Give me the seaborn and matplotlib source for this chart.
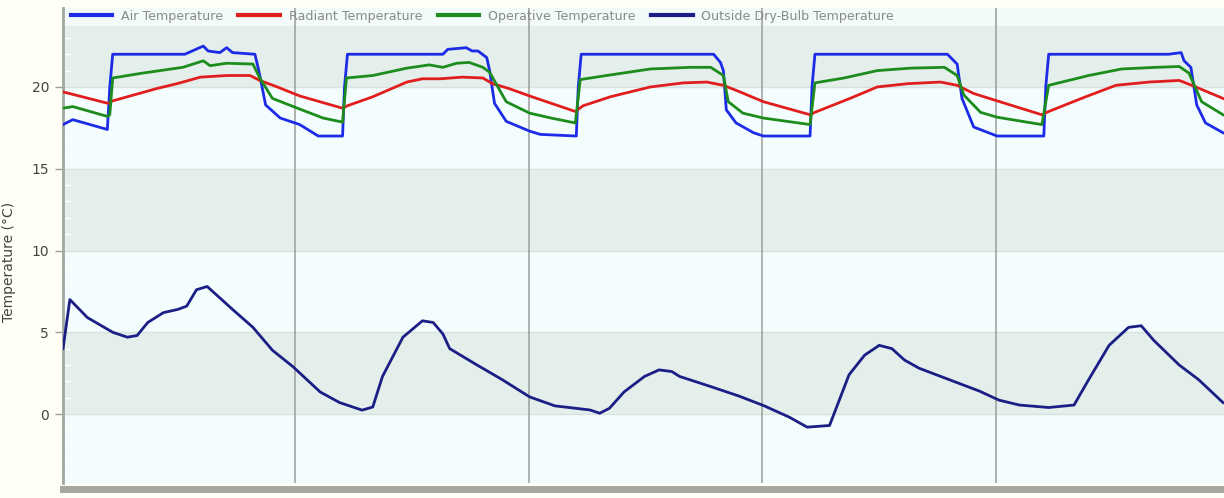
import numpy as np
import pandas as pd
import seaborn as sns
import matplotlib.pyplot as plt
from matplotlib.ticker import MultipleLocator

# hours from start of the 5 day run
air_hours = [0.2, 1.2, 4.75, 5.0, 5.3, 12.7, 14.6, 15.1, 16.3, 17.0, 17.6, 19.9, 20.3, 21.0, 22.5,
             24.5, 26.4, 28.9, 29.1, 29.4, 37.5, 39.2, 39.7, 41.6, 42.2, 42.8, 43.7, 44.0, 44.5, 45.7,
             48.1, 49.2, 52.9, 53.1, 53.4, 67.0, 67.7, 68.0, 68.3, 69.3, 71.1, 72.1, 76.9, 77.1, 77.4,
             91.0, 92.0, 92.5, 93.7, 96.1, 100.9, 101.1, 101.4, 113.7, 115.0, 115.3, 116.0, 116.6, 117.5, 119.3]
air_temp = [17.7, 18.0, 17.4, 20.0, 22.0, 22.0, 22.5, 22.2, 22.1, 22.4, 22.1, 22.0, 21.0, 18.9, 18.1,
            17.7, 17.0, 17.0, 20.0, 22.0, 22.0, 22.0, 22.3, 22.4, 22.2, 22.2, 21.8, 21.0, 19.0, 17.9,
            17.3, 17.1, 17.0, 20.0, 22.0, 22.0, 21.5, 21.0, 18.6, 17.8, 17.2, 17.0, 17.0, 20.0, 22.0,
            22.0, 21.4, 19.3, 17.55, 17.0, 17.0, 20.0, 22.0, 22.0, 22.1, 21.6, 21.2, 18.9, 17.8, 17.2]

rad_hours = [0.2, 4.8, 5.3, 9.8, 11.9, 14.3, 17.0, 19.4, 20.4, 22.2, 24.5, 28.9, 29.4, 32.0, 35.5,
             37.1, 38.9, 41.2, 43.3, 44.3, 46.0, 48.1, 52.8, 53.6, 56.4, 60.5, 63.9, 66.3, 68.0, 69.7,
             72.1, 76.9, 77.4, 81.0, 83.8, 86.9, 90.3, 92.0, 93.7, 96.1, 100.7, 101.4, 105.2, 108.3,
             111.7, 114.8, 116.1, 119.3]
rad_temp = [19.7, 19.0, 19.15, 19.9, 20.2, 20.6, 20.7, 20.7, 20.4, 20.0, 19.45, 18.7, 18.85, 19.4, 20.3,
            20.5, 20.5, 20.6, 20.55, 20.2, 19.9, 19.45, 18.5, 18.85, 19.4, 20.0, 20.25, 20.3, 20.1, 19.7,
            19.1, 18.3, 18.45, 19.3, 20.0, 20.2, 20.3, 20.1, 19.6, 19.15, 18.3, 18.5, 19.4, 20.1,
            20.3, 20.4, 20.1, 19.3]

op_hours = [0.2, 1.2, 4.75, 5.0, 5.3, 8.4, 12.5, 14.6, 15.3, 17.0, 19.7, 20.4, 21.7, 24.5, 26.9,
            28.9, 29.3, 32.0, 35.5, 37.8, 39.2, 40.6, 41.9, 43.3, 44.0, 45.7, 48.1, 50.3, 52.8, 53.3,
            56.0, 60.5, 64.6, 66.7, 68.0, 68.5, 70.0, 72.1, 76.9, 77.4, 80.4, 83.8, 87.2, 90.7, 92.0,
            92.7, 94.4, 96.1, 100.7, 101.4, 105.5, 108.9, 112.4, 114.8, 115.8, 117.1, 119.3]
op_temp = [18.7, 18.8, 18.2, 18.3, 20.55, 20.85, 21.2, 21.6, 21.3, 21.45, 21.4, 20.55, 19.3, 18.65, 18.1,
           17.85, 20.55, 20.7, 21.15, 21.35, 21.2, 21.45, 21.5, 21.2, 20.9, 19.1, 18.4, 18.1, 17.8, 20.45,
           20.7, 21.1, 21.2, 21.2, 20.7, 19.1, 18.4, 18.1, 17.7, 20.25, 20.55, 21.0, 21.15, 21.2, 20.7,
           19.5, 18.45, 18.15, 17.7, 20.1, 20.7, 21.1, 21.2, 21.25, 20.85, 19.1, 18.3]

out_hours = [0.2, 0.9, 2.7, 5.3, 6.8, 7.8, 8.9, 10.5, 12.0, 12.9, 13.9, 15.0, 16.3, 17.6, 19.7,
             21.7, 23.8, 26.6, 28.6, 30.9, 32.0, 33.0, 35.1, 37.1, 38.2, 39.2, 39.9, 42.7, 45.3, 48.1,
             50.7, 54.3, 55.3, 56.3, 57.8, 59.9, 61.4, 62.7, 63.5, 66.6, 69.6, 72.2, 74.8, 76.6, 78.9,
             80.9, 82.5, 84.0, 85.3, 86.6, 88.1, 91.2, 94.3, 96.3, 98.4, 101.4, 104.0, 105.5, 107.6,
             109.6, 110.9, 112.2, 114.8, 116.8, 119.3]
out_temp = [4.0, 7.0, 5.9, 5.0, 4.7, 4.8, 5.6, 6.2, 6.4, 6.6, 7.6, 7.8, 7.1, 6.4, 5.3,
            3.9, 2.9, 1.35, 0.7, 0.24, 0.43, 2.3, 4.7, 5.7, 5.6, 4.9, 4.0, 3.0, 2.1, 1.05,
            0.5, 0.25, 0.05, 0.35, 1.35, 2.3, 2.7, 2.6, 2.3, 1.7, 1.1, 0.5, -0.2, -0.8, -0.7,
            2.4, 3.6, 4.2, 4.0, 3.3, 2.8, 2.1, 1.4, 0.85, 0.55, 0.4, 0.55, 2.1, 4.2,
            5.3, 5.4, 4.5, 3.0, 2.1, 0.7]

series_names = ['Air Temperature', 'Radiant Temperature', 'Operative Temperature',
                'Outside Dry-Bulb Temperature']
series_colors = ['#1c2ce6', '#e01e1e', '#1c8c1c', '#1a1f85']
day_lines = [24, 48, 72, 96]

frames = []
for name, h, t in zip(series_names,
                      [air_hours, rad_hours, op_hours, out_hours],
                      [air_temp, rad_temp, op_temp, out_temp]):
    frames.append(pd.DataFrame({'hour': h, 'temp': t, 'series': name}))
df = pd.concat(frames, ignore_index=True)

fig = plt.figure(figsize=(12.24, 4.98), dpi=100, facecolor='#fffff6')
ax = fig.add_axes([0.0515, 0.030, 0.9485, 0.954])
ax.set_facecolor('#f4fdfd')

ymin, ymax = -4.22, 24.83
# alternating bands
for lo in [0, 10]:
    ax.axhspan(lo, lo + 5, color='#e4eeeb', zorder=0, lw=0)
ax.axhspan(20, 23.73, color='#e4eeeb', zorder=0, lw=0)
ax.axhspan(23.73, 30, color='#f2fafa', zorder=0, lw=0)
for v in [0, 5, 10, 15, 20]:
    ax.axhline(v, color='#d6e2de', lw=1, zorder=0.5)

for d in day_lines:
    ax.axvline(d, color='#9a9e9a', lw=1.1, zorder=1)

sns.lineplot(data=df, x='hour', y='temp', hue='series', palette=series_colors,
             hue_order=series_names, sort=False, estimator=None, linewidth=2.0,
             ax=ax, zorder=3)

ax.set_xlim(0.2, 119.4)
ax.set_ylim(ymin, ymax)
ax.set_xticks([])
ax.set_xlabel('')
ax.set_yticks([0, 5, 10, 15, 20])
ax.yaxis.set_minor_locator(MultipleLocator(1))
ax.tick_params(axis='y', which='major', length=6, width=1, color='#9a9e9a',
               labelsize=10, labelcolor='#444444', pad=4)
ax.tick_params(axis='y', which='minor', direction='in', length=5, width=1, color='white')
ax.set_ylabel('Temperature (°C)', fontsize=10, color='#444444')
ax.yaxis.set_label_coords(-0.0405, 0.465)

for s in ['top', 'right']:
    ax.spines[s].set_visible(False)
ax.spines['left'].set_color('#a0a89f')
ax.spines['left'].set_linewidth(2)
ax.spines['bottom'].set_position(('outward', 4))
ax.spines['bottom'].set_color('#a6a89e')
ax.spines['bottom'].set_linewidth(5)

handles, labels = ax.get_legend_handles_labels()
for hd in handles:
    hd.set_linewidth(3)
leg = ax.legend(handles, labels, loc='upper left', bbox_to_anchor=(0.0, 1.012), ncol=4,
                frameon=False, fontsize=9.1, handlelength=3.3, handletextpad=0.7,
                columnspacing=1.2, borderaxespad=0.2)
for txt in leg.get_texts():
    txt.set_color('#8a8a8a')

fig.savefig('out.png', dpi=100, facecolor=fig.get_facecolor())
